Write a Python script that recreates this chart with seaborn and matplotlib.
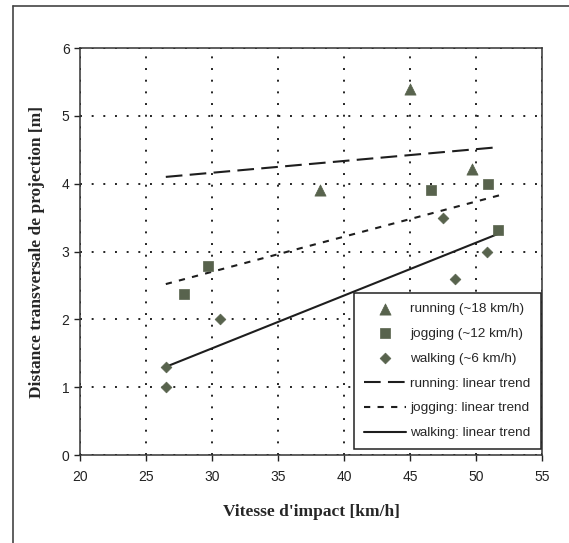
import matplotlib
matplotlib.use("Agg")
import matplotlib.pyplot as plt
import numpy as np
import pandas as pd
import seaborn as sns
from matplotlib.lines import Line2D

# measured points (impact speed km/h, lateral throw distance m)
running_x = [38.2, 45.0, 49.7]
running_y = [3.9, 5.4, 4.22]
jogging_x = [27.9, 29.7, 46.6, 50.9, 51.7]
jogging_y = [2.38, 2.79, 3.9, 4.0, 3.31]
walking_x = [26.5, 26.5, 30.6, 47.5, 48.4, 50.8]
walking_y = [1.0, 1.3, 2.0, 3.5, 2.6, 3.0]

# linear trend end points
trend_x = [26.5, 51.8]
running_trend = [4.1, 4.54]
jogging_trend = [2.52, 3.83]
walking_trend = [1.3, 3.27]

point_labels = ["running (~18 km/h)", "jogging (~12 km/h)", "walking (~6 km/h)"]
trend_labels = ["running: linear trend", "jogging: linear trend", "walking: linear trend"]
x_ticks = [20, 25, 30, 35, 40, 45, 50, 55]
y_ticks = [0, 1, 2, 3, 4, 5, 6]

sns.set_style("white")
plt.rcParams["font.family"] = ["Liberation Sans", "DejaVu Sans"]

fig = plt.figure(figsize=(5.69, 5.43), dpi=100)
ax = fig.add_axes([0.1406, 0.162, 0.812, 0.7496])

marker_color = "#58634d"
line_color = "#1e1e1e"

points = [
    (running_x, running_y, "^", 65),
    (jogging_x, jogging_y, "s", 48),
    (walking_x, walking_y, "D", 30),
]
for (xs, ys, marker, size), label in zip(points, point_labels):
    df = pd.DataFrame({"x": xs, "y": ys})
    sns.scatterplot(data=df, x="x", y="y", marker=marker, s=size, color=marker_color,
                    edgecolor=marker_color, linewidth=0.5, label=label, ax=ax, zorder=3)

trends = [
    (running_trend, (8, 3.5)),
    (jogging_trend, (3, 3.5)),
    (walking_trend, None),
]
for (ys, dashes), label in zip(trends, trend_labels):
    df = pd.DataFrame({"x": trend_x, "y": ys})
    sns.lineplot(data=df, x="x", y="y", color=line_color, linewidth=1.5, label=label,
                 ax=ax, zorder=2)
    line = ax.get_lines()[-1]
    if dashes is not None:
        line.set_dashes(dashes)

ax.set_xlim(20, 55)
ax.set_ylim(0, 6)
ax.set_xticks(x_ticks)
ax.set_yticks(y_ticks)
ax.tick_params(axis="both", labelsize=10, length=4, width=1, direction="out",
               colors="#222222", bottom=True, left=True)
ax.tick_params(axis="x", pad=7)
ax.grid(True, color="#222222", linestyle=(0, (1, 5)), linewidth=1.4)
for spine in ax.spines.values():
    spine.set_color("#333333")
    spine.set_linewidth(1.1)

ax.set_xlabel("Vitesse d'impact [km/h]", family="Liberation Serif", fontweight="bold",
              fontsize=12.5, labelpad=14)
ax.set_ylabel("Distance transversale de projection [m]", family="Liberation Serif",
              fontweight="bold", fontsize=12.5, labelpad=12)

handles, labels = ax.get_legend_handles_labels()
leg = ax.legend(handles, labels, loc="lower right", bbox_to_anchor=(0.997, 0.014),
                fontsize=9.7, frameon=True, fancybox=False, framealpha=1,
                edgecolor="#222222", handlelength=3.1, handletextpad=0.3,
                labelspacing=0.92, borderpad=0.75, borderaxespad=0)
leg.get_frame().set_linewidth(1.1)
leg.set_zorder(5)

# scan frame around the figure
fig.add_artist(Line2D([0.0228, 1.0], [0.989, 0.989], color="#444444", lw=1.2))
fig.add_artist(Line2D([0.0228, 0.0228], [0.0, 0.989], color="#444444", lw=1.2))

fig.savefig("out.png", dpi=100)
